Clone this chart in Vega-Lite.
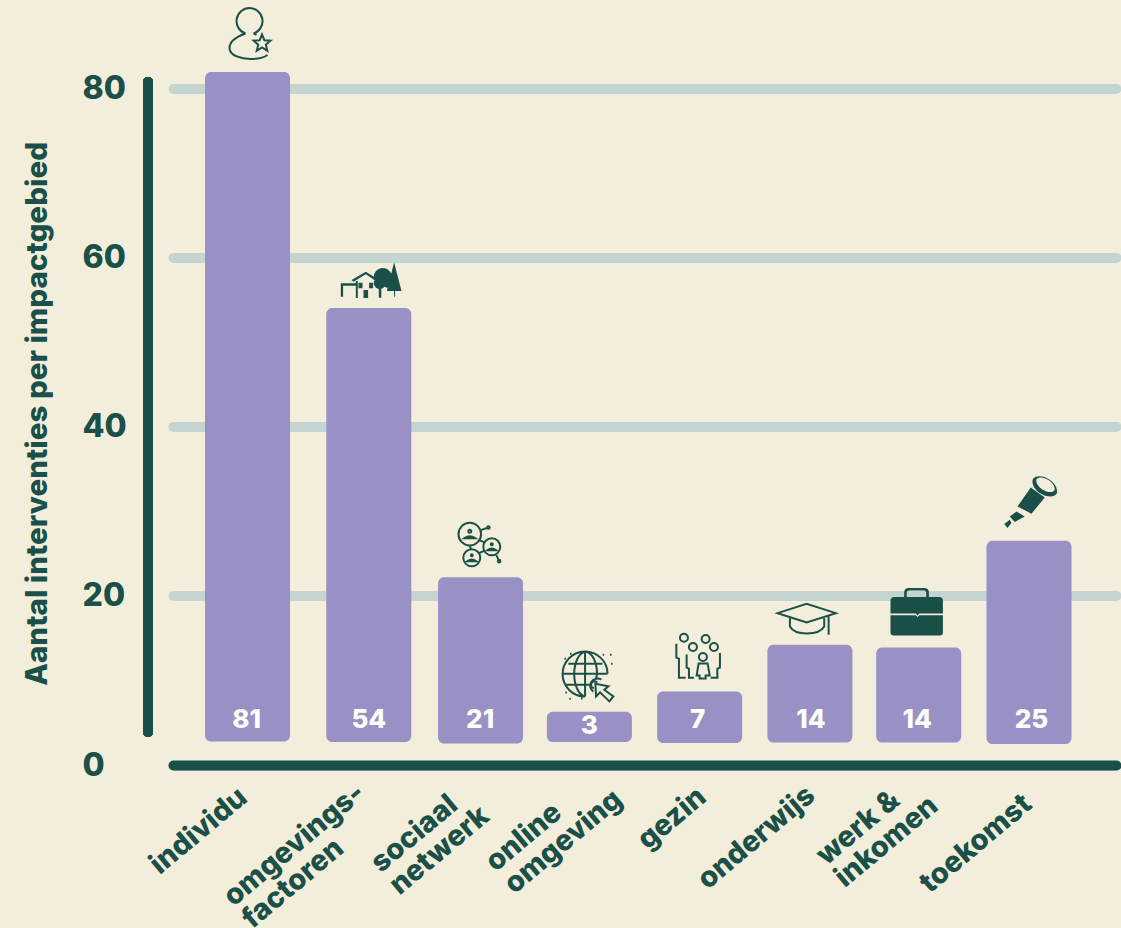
{
"$schema":"https://vega.github.io/schema/vega-lite/v6.json",
"width":943,"height":761.6,
"autosize":{"type":"none"},
"padding":{"left":173,"top":3.4,"right":5,"bottom":163},
"background":"#f3eedc",
"config":{"view":{"stroke":null},"font":"Inter"},
"data":{"values":[
{"gebied":"individu","label":"individu","n":81,"top":81.9,"base":2.78},
{"gebied":"omgevings","label":"omgevings-\nfactoren","n":54,"top":54,"base":2.72},
{"gebied":"sociaal","label":"sociaal\nnetwerk","n":21,"top":22.2,"base":2.54},
{"gebied":"online","label":"online\nomgeving","n":3,"top":6.3,"base":2.72},
{"gebied":"gezin","label":"gezin","n":7,"top":8.7,"base":2.6},
{"gebied":"onderwijs","label":"onderwijs","n":14,"top":14.2,"base":2.66},
{"gebied":"werk","label":"werk &\ninkomen","n":14,"top":13.9,"base":2.66},
{"gebied":"toekomst","label":"toekomst","n":25,"top":26.5,"base":2.48}
]},
"encoding":{
"x":{"field":"gebied","type":"nominal","sort":null,
"scale":{"type":"band","paddingInner":0.229,"paddingOuter":0.39},
"axis":{"title":null,"labels":false,"ticks":false,"domain":true,"domainColor":"#1a5048","domainWidth":10,"domainCap":"round","grid":false}}
},
"resolve":{"scale":{"shape":"independent"}},
"layer":[
{"mark":{"type":"bar","color":"#9990c6","cornerRadius":6,"xOffset":{"expr":"{individu:-11,sociaal:1.5,werk:-1.5,toekomst:-1.5}[datum.gebied]||0"}},
"encoding":{
"y":{"field":"top","type":"quantitative","scale":{"domain":[0,90],"nice":false},
"axis":{"values":[0,20,40,60,80],"title":"Aantal interventies per impactgebied","titleFontSize":29.6,"titleFontWeight":800,"titleColor":"#1a5048","titleFont":"Inter","titleX":-121,"titleY":410,"titleAngle":-90,
"labelFont":"Inter","labelFontSize":32,"labelFontWeight":800,"labelColor":"#1a5048","labelAlign":"left","labelPadding":91,"ticks":false,"domain":false,
"grid":true,"gridColor":"#c4d5d1","gridWidth":10,"gridCap":"round"}},
"y2":{"field":"base"}
}},
{"mark":{"type":"rule","stroke":"#1a5048","strokeWidth":10,"strokeCap":"round","clip":false},
"encoding":{"x":{"value":-25},"y":{"datum":3.9,"type":"quantitative"},"y2":{"datum":80.7}}},
{"mark":{"type":"text","color":"white","font":"Inter","fontWeight":800,"fontSize":26,"baseline":"middle",
"xOffset":{"expr":"{individu:-12,sociaal:1,gezin:-2,onderwijs:1,werk:-3,toekomst:1}[datum.gebied]||0"},
"yOffset":{"expr":"datum.n===3?6:0"}},
"encoding":{"y":{"datum":5.3,"type":"quantitative"},"text":{"field":"n","type":"quantitative"}}},
{"mark":{"type":"text","color":"#1a5048","font":"Inter","fontWeight":800,"fontSize":29,"angle":320,"align":"left","baseline":"alphabetic","lineBreak":"\n","lineHeight":29,
"dx":{"expr":"{individu:-138,omgevings:-195,sociaal:-145,online:-141,gezin:-95,onderwijs:-159,werk:-137,toekomst:-160}[datum.gebied]"},
"dy":{"expr":"{individu:28,omgevings:22,sociaal:20,online:22,gezin:32,onderwijs:30,werk:17,toekomst:34}[datum.gebied]"},
"xOffset":{"expr":"datum.gebied==='individu'?-11:0"}},
"encoding":{"y":{"datum":0,"type":"quantitative"},"text":{"field":"label","type":"nominal"}}},
{"transform":[{"filter":"indexof(['individu','sociaal','online','gezin','onderwijs'],datum.gebied)>=0"}],
"mark":{"type":"point","filled":false,"color":"#1a5048","strokeWidth":2,"size":4,"opacity":1,
"xOffset":{"expr":"{individu:-9,sociaal:1,online:-2,gezin:0,onderwijs:-3}[datum.gebied]"},
"yOffset":{"expr":"{individu:-38,sociaal:-34,online:-35,gezin:-36,onderwijs:-27}[datum.gebied]"}},
"encoding":{"y":{"field":"top","type":"quantitative"},
"shape":{"field":"gebied","type":"nominal","legend":null,"scale":{"domain":["individu","sociaal","online","gezin","onderwijs"],"range":[
"M-4,-.5A13,13 0 1 1 4,-.5M-4,-.5C-14,3 -20,8 -20,14C-20,22 -8,25 1,25C8,25 14,24 18,21M4,-.5L7,1M12.5,.5L14.85,6.26L21,6.7L16.3,10.74L17.8,16.8L12.5,13.5L7.2,16.8L8.7,10.74L4,6.7L10.15,6.26Z",
"M-21.6,-9A11.3,11.3 0 1 1 1,-9A11.3,11.3 0 1 1 -21.6,-9ZM3.2,3.7A8.5,8.5 0 1 1 20.2,3.7A8.5,8.5 0 1 1 3.2,3.7ZM-16.8,14.7A8.5,8.5 0 1 1 .2,14.7A8.5,8.5 0 1 1 -16.8,14.7ZM.7,-13L8.3,-15.7M-1,-3L4.7,-.7M4,7.7L-1.7,10.3M-10.3,2L-9.3,6.3M16.3,12L18.3,16.3M7,-15.7A1.3,1.3 0 1 1 9.6,-15.7A1.3,1.3 0 1 1 7,-15.7ZM17.7,18A1.3,1.3 0 1 1 20.3,18A1.3,1.3 0 1 1 17.7,18ZM-11.8,-12A1.5,1.5 0 1 1 -8.8,-12A1.5,1.5 0 1 1 -11.8,-12ZM-15.5,-5Q-10.3,-8.5 -5,-5ZM10.7,1A1,1 0 1 1 12.7,1A1,1 0 1 1 10.7,1ZM7.5,7Q11.7,4 16,7ZM-9.3,12A1,1 0 1 1 -7.3,12A1,1 0 1 1 -9.3,12ZM-12.5,18Q-8.3,15 -4,18Z",
"M20.2,-3A22.5,22.5 0 1 0 -2.3,19.8M-2.3,-25A12,22.5 0 0 0 -2.3,19.8M-2.3,-25A12,22.5 0 0 1 9.7,-3L8.5,3M-2.3,-25L-2.3,19.8M-19,-13L15,-13M-25,-3L20,-3M-21,8L2,8M8,7L21,9.7L17,13L26,19.7L22,24.7L12.7,15.7L8.7,19.7ZM6,15A7,7 0 1 1 14,3M6.5,11.5A3.5,3.5 0 1 1 10,6M-23,-18h1.5M-17.3,-23h1.5M15.3,-22h1.5M22.7,-22h1.5M23.7,-13h1.5M-22,15.7h1.5M-18,22h1.5M-6.3,21.7h1.5",
"M-19.7,-17.7A4,4 0 1 1 -11.7,-17.7A4,4 0 1 1 -19.7,-17.7ZM2,-16.3A4,4 0 1 1 10,-16.3A4,4 0 1 1 2,-16.3ZM-10.7,-8.3A4,4 0 1 1 -2.7,-8.3A4,4 0 1 1 -10.7,-8.3ZM10.3,-8.3A4,4 0 1 1 18.3,-8.3A4,4 0 1 1 10.3,-8.3ZM-.7,1.7A4,4 0 1 1 7.3,1.7A4,4 0 1 1 -.7,1.7ZM-23.3,-11.7L-23.3,2.3L-20.7,3.3L-20.7,22.3L-14,22.3M20.3,-2.3L20.3,12.3L17.7,13.3L17.7,22.3L11,22.3M-13,-1L-13,12.3L-10.7,13.3L-10.7,22.3L-5.7,22.3M-1,8L-3,20L0,20L0,23L6,23L6,20L10,20L8,8Z",
"M-29.3,-4.7L-.3,-14L29,-4.7L-.3,4.7ZM-17,.3L-17,8.7C-12,18 12,18 17.3,8.7L17.3,.3M21.7,-3L21.7,17"
]}}}},
{"transform":[{"filter":"indexof(['omgevings','werk','toekomst'],datum.gebied)>=0"}],
"mark":{"type":"point","filled":true,"color":"#1a5048","size":4,"opacity":1,
"xOffset":{"expr":"{omgevings:2,werk:-4,toekomst:0}[datum.gebied]"},
"yOffset":{"expr":"{omgevings:-26,werk:-35,toekomst:-39}[datum.gebied]"}},
"encoding":{"y":{"field":"top","type":"quantitative"},
"shape":{"field":"gebied","type":"nominal","legend":null,"scale":{"domain":["omgevings","werk","toekomst"],"range":[
"M-30,14.7L-30,1.3L-13.3,1.3L-13.3,3.7L-27.7,3.7L-27.7,14.7ZM-19.3,-2L-5,-10.3L6.7,-3L5,-1L-5,-7.7L-17.3,-.3ZM-12.3,.7L-8.3,.7L-8.3,6.3L-12.3,6.3ZM-1.7,.7L2.3,.7L2.3,6.3L-1.7,6.3ZM-7.3,8L-2.7,8L-2.7,16L-7.3,16ZM-15,-1L-13,-1L-13,16L-15,16ZM3,-5A9,9 0 1 1 21,-5A9,9 0 1 1 3,-5ZM11,-1A7,7 0 1 1 25,-1A7,7 0 1 1 11,-1ZM3,1A6,6 0 1 1 15,1A6,6 0 1 1 3,1ZM8,4L10.5,4L10.5,15.7L8,15.7ZM23.3,-19.7L30.7,9L24.3,9L24.3,14.7L23.3,14.7L23.3,9L16,9Z",
"M-25.7,-11.3Q-25.7,-15.3 -21.7,-15.3L22.7,-15.3Q26.7,-15.3 26.7,-11.3L26.7,1L3,1L1.3,3L-.5,1L-25.7,1ZM-25.7,2.8L-.5,2.8L1.3,4.5L3,2.8L26.7,2.8L26.7,20Q26.7,23 23.7,23L-22.7,23Q-25.7,23 -25.7,20ZM-12,-15L-12,-20Q-12,-24.5 -7.5,-24.5L8,-24.5Q12.7,-24.5 12.7,-20L12.7,-15L10,-15L10,-19.5Q10,-22 7.5,-22L-7,-22Q-9.5,-22 -9.5,-19.5L-9.5,-15Z",
"M.3,-14.3L14.3,-4.3L1,12L-13,4.7ZM-14,9.7L-5.7,14.7L-15.7,20.3L-20.7,14.7ZM-20.7,18L-19,21.3L-23,26.3L-26.3,22.3ZM2.6,-22.9A14,9 33 0 1 26,-7.7A14,9 33 0 1 2.6,-22.9ZM6.2,-22.7A10.5,6 33 0 0 23.8,-11.3A10.5,6 33 0 0 6.2,-22.7Z"
]}}}}
]
}
